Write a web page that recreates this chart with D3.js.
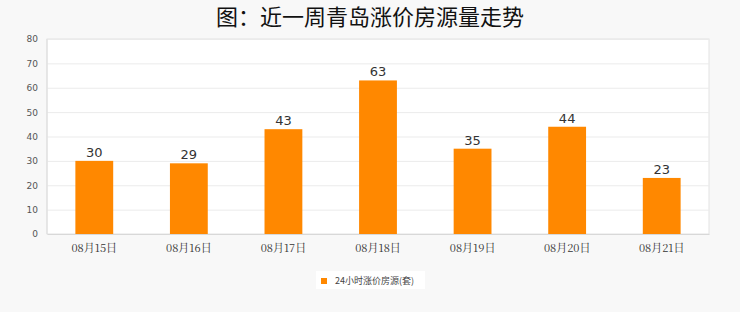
<!DOCTYPE html>
<html>
<head>
<meta charset="utf-8">
<script src="https://cdn.jsdelivr.net/npm/d3@7"></script>
<style>
  body { margin: 0; background: #f8f8f8; }
  svg { display: block; }
</style>
</head>
<body>
<svg id="chart"></svg>
<script>
// data
var titleText = "图：近一周青岛涨价房源量走势";
var categories = ["08月15日", "08月16日", "08月17日", "08月18日", "08月19日", "08月20日", "08月21日"];
var values = [30, 29, 43, 63, 35, 44, 23];
var yTicks = [0, 10, 20, 30, 40, 50, 60, 70, 80];
var seriesName = "24小时涨价房源(套)";

var width = 740, height = 312;
var marginLeft = 47, marginRight = 31, marginTop = 39, marginBottom = 78;

var svg = d3.select("#chart")
  .attr("width", width)
  .attr("height", height)
  .attr("viewBox", [0, 0, width, height]);

svg.append("rect").attr("width", width).attr("height", height).attr("fill", "#f8f8f8");

var x = d3.scaleBand()
  .domain(categories)
  .range([marginLeft, width - marginRight])
  .paddingInner(0.6).paddingOuter(0.3);

var y = d3.scaleLinear()
  .domain([0, 80])
  .range([height - marginBottom, marginTop]);

// plot background
svg.append("rect")
  .attr("x", marginLeft).attr("y", marginTop)
  .attr("width", width - marginRight - marginLeft)
  .attr("height", height - marginBottom - marginTop)
  .attr("fill", "#fff")
  .attr("stroke", "#e2e2e2");

// gridlines + y labels
svg.append("g")
  .attr("transform", `translate(${marginLeft},0)`)
  .call(d3.axisLeft(y).tickValues(yTicks).tickSize(0).tickPadding(9))
  .call(g => g.select(".domain").remove())
  .call(g => g.selectAll(".tick line").clone()
      .attr("x2", width - marginLeft - marginRight)
      .attr("stroke", "#ebebeb"))
  .call(g => g.selectAll("text")
      .attr("fill", "#555")
      .attr("font-size", 9)
      .attr("font-family", "DejaVu Sans, sans-serif"));

// axis lines
svg.append("line")
  .attr("x1", marginLeft).attr("x2", marginLeft)
  .attr("y1", marginTop).attr("y2", height - marginBottom)
  .attr("stroke", "#ddd");

svg.append("g")
  .attr("transform", `translate(0,${height - marginBottom})`)
  .call(d3.axisBottom(x).tickSize(0).tickPadding(10))
  .call(g => g.select(".domain").attr("stroke", "#d8d8d8"))
  .call(g => g.selectAll("text")
      .attr("fill", "#333")
      .attr("font-size", 11)
      .attr("font-family", "'Noto Serif CJK SC', 'Noto Sans CJK SC', serif"));

// bars
svg.append("g")
  .selectAll("rect")
  .data(values)
  .join("rect")
    .attr("x", (d, i) => x(categories[i]))
    .attr("y", d => y(d))
    .attr("width", x.bandwidth())
    .attr("height", d => y(0) - y(d))
    .attr("fill", "#ff8800");

// value labels
svg.append("g")
  .selectAll("text")
  .data(values)
  .join("text")
    .attr("x", (d, i) => x(categories[i]) + x.bandwidth() / 2)
    .attr("y", d => y(d) - 4)
    .attr("text-anchor", "middle")
    .attr("font-size", 13)
    .attr("font-family", "DejaVu Sans, sans-serif")
    .attr("fill", "#333")
    .text(d => d);

// title
svg.append("text")
  .attr("x", width / 2)
  .attr("y", 25)
  .attr("text-anchor", "middle")
  .attr("font-size", 22)
  .attr("font-weight", 400)
  .attr("font-family", "'Noto Sans CJK SC', sans-serif")
  .attr("fill", "#111")
  .text(titleText);

// legend
var legend = svg.append("g").attr("transform", "translate(316,271)");
legend.append("rect")
  .attr("width", 109).attr("height", 18)
  .attr("fill", "#fff");
legend.append("rect")
  .attr("x", 5).attr("y", 7)
  .attr("width", 6).attr("height", 6)
  .attr("fill", "#ff8800");
legend.append("text")
  .attr("x", 19).attr("y", 13)
  .attr("font-size", 9)
  .attr("font-family", "'Noto Sans CJK SC', sans-serif")
  .attr("fill", "#444")
  .text(seriesName);
</script>
</body>
</html>
